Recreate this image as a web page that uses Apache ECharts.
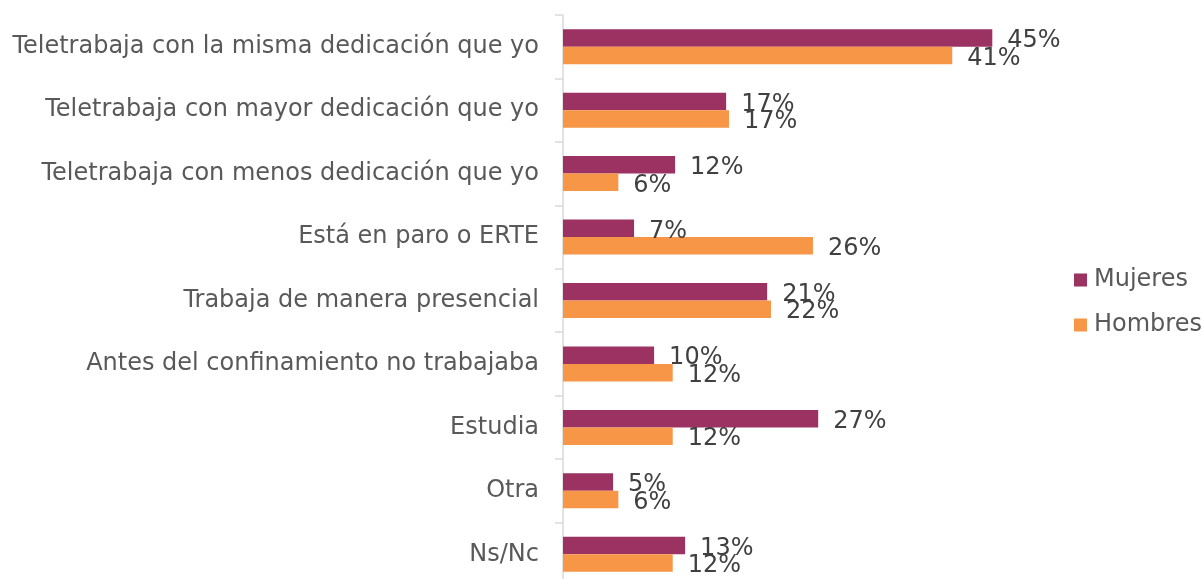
<!DOCTYPE html>
<html>
<head>
<meta charset="utf-8">
<title>Situación laboral</title>
<script src="https://cdn.jsdelivr.net/npm/echarts@6/dist/echarts.min.js"></script>
<style>
  html, body {margin: 0; padding: 0; background: #fff; overflow: hidden;}
  #chart {width: 1203px; height: 600px;}
</style>
</head>
<body>
<div id="chart"></div>
<script>
var categorias = ['Teletrabaja con la misma dedicación que yo', 'Teletrabaja con mayor dedicación que yo',
  'Teletrabaja con menos dedicación que yo', 'Está en paro o ERTE', 'Trabaja de manera presencial',
  'Antes del confinamiento no trabajaba', 'Estudia', 'Otra', 'Ns/Nc'];
var mujeres = [45.0, 17.1, 11.75, 7.45, 21.4, 9.55, 26.75, 5.25, 12.8];
var hombres = [40.8, 17.4, 5.8, 26.2, 21.8, 11.5, 11.5, 5.8, 11.5];

var chart = echarts.init(document.getElementById('chart'));

//etiqueta del valor
var etiqueta = {
  show: true,
  position: 'right',
  distance: 15,
  fontFamily: 'DejaVu Sans',
  fontSize: 24,
  color: '#404040',
  offset: [0, 3],
  formatter: function (p) { return Math.round(p.value) + '%'; }
};

chart.setOption({
  animation: false,
  legend: {
    orient: 'vertical',
    left: 1074,
    top: 268,
    padding: 0,
    itemWidth: 13,
    itemHeight: 13,
    itemGap: 21,
    icon: 'rect',
    textStyle: {fontFamily: 'DejaVu Sans', fontSize: 24, color: '#595959', padding: [0, 0, 0, 2]},
    data: ['Mujeres', 'Hombres']
  },
  grid: {left: 563, top: 15, width: 477, height: 571},
  xAxis: {
    type: 'value',
    min: 0,
    max: 50,
    show: false
  },
  yAxis: {
    type: 'category',
    inverse: true,
    data: categorias,
    axisLine: {lineStyle: {color: '#d9d9d9', width: 1.5}},
    axisTick: {show: true, length: 8, lineStyle: {color: '#d9d9d9', width: 1.5}},
    axisLabel: {margin: 24, fontFamily: 'DejaVu Sans', fontSize: 24, color: '#595959', padding: [3, 0, 0, 0]}
  },
  series: [
    {
      name: 'Mujeres',
      type: 'bar',
      data: mujeres,
      barWidth: 17.5,
      barGap: '0%',
      itemStyle: {color: '#9b3262'},
      label: etiqueta
    },
    {
      name: 'Hombres',
      type: 'bar',
      data: hombres,
      barWidth: 17.5,
      barGap: '0%',
      itemStyle: {color: '#f79646'},
      label: etiqueta
    }
  ]
});
window.onresize = chart.resize;
</script>
</body>
</html>
